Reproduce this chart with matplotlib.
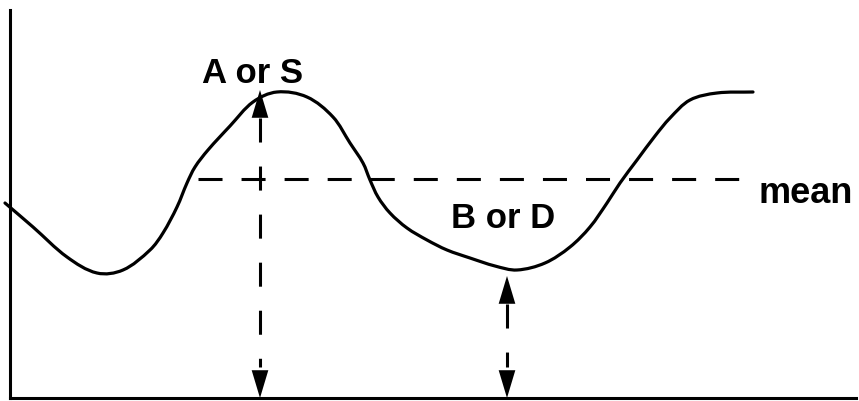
import matplotlib
matplotlib.use("Agg")
import numpy as np
import matplotlib.pyplot as plt
from matplotlib.path import Path
from matplotlib.patches import PathPatch

plt.rcParams['lines.scale_dashes'] = False

# signal curve (arbitrary units)
curve_x = [-0.5, 2.3, 5.7, 8.7, 11.3, 14.0, 15.3, 16.7, 17.7, 18.5, 19.8, 22.0,
           24.3, 26.7, 29.7, 32.3, 34.0, 35.3, 36.0, 36.8, 38.0, 39.7, 41.7,
           43.7, 46.0, 48.5, 50.7, 53.5, 56.0, 58.0, 59.7, 61.0, 62.7,
           64.5, 66.0, 68.0, 70.7, 74.3]
curve_y = [19.5, 17.1, 14.1, 12.5, 12.8, 14.8, 16.5, 19.1, 21.5, 23.1, 24.8, 27.2,
           29.6, 30.6, 30.1, 28.1, 25.5, 23.5, 21.8, 20.1, 18.5, 17.0, 15.8,
           14.8, 14.0, 13.2, 12.8, 13.5, 15.1, 17.1, 19.5, 21.5, 23.8,
           26.2, 28.0, 29.8, 30.5, 30.6]

mean_level = 21.9
mean_span = [18.8, 73.8]

# the two measured heights: A/S at the peak, B/D at the trough
arrow_x = [25.0, 49.7]
arrow_top = [30.8, 12.2]
labels = ['A or S', 'B or D']
label_pos = [(24.3, 31.5), (49.3, 17.0)]


def smooth_path(xs, ys):
    # smooth curve through the read points, drawn as cubic bezier segments
    p = np.column_stack([xs, ys]).astype(float)
    n = len(p)
    tang = np.zeros_like(p)
    for i in range(n):
        d = p[min(i + 1, n - 1)] - p[max(i - 1, 0)]
        tang[i] = d / np.hypot(*d)
    verts = [p[0]]
    codes = [Path.MOVETO]
    for i in range(n - 1):
        seg = np.hypot(*(p[i + 1] - p[i])) / 3
        verts += [p[i] + tang[i] * seg, p[i + 1] - tang[i + 1] * seg, p[i + 1]]
        codes += [Path.CURVE4] * 3
    return Path(verts, codes)


fig = plt.figure(figsize=(8.59, 4.01), dpi=100)
ax = fig.add_axes([10 / 859, 3 / 401, 846 / 859, 388 / 401])
ax.set_xlim(0, 84.6)
ax.set_ylim(0, 38.8)
for s in ['top', 'right']:
    ax.spines[s].set_visible(False)
for s in ['left', 'bottom']:
    ax.spines[s].set_linewidth(2.2)
ax.set_xticks([])
ax.set_yticks([])

ax.add_patch(PathPatch(smooth_path(curve_x, curve_y), fill=False, color='black',
                       lw=2.3, clip_on=False, joinstyle='round', capstyle='round'))

ax.plot(mean_span, [mean_level, mean_level], color='black', lw=2.2,
        dashes=(17.3, 13.7), dash_capstyle='butt')
ax.text(74.8, 19.5, 'mean', fontsize=26, fontweight='bold',
        family='Liberation Sans', va='baseline', ha='left')

head = 2.8  # arrow head length in data units
arrow_style = dict(arrowstyle='-|>,head_length=2.0,head_width=0.6',
                   color='black', lw=0, shrinkA=0, shrinkB=0, mutation_scale=10)
for x, top in zip(arrow_x, arrow_top):
    # dashed shaft between the two heads
    ax.plot([x, x], [top - head, 3.1], color='black', lw=2.2,
            dashes=(17.3, 17.3), dash_capstyle='butt')
    ax.annotate('', xy=(x, top), xytext=(x, top - head), arrowprops=arrow_style)
    ax.annotate('', xy=(x, 0), xytext=(x, 3.1), arrowprops=arrow_style)

for lab, (lx, ly) in zip(labels, label_pos):
    ax.text(lx, ly, lab, fontsize=25, fontweight='bold', family='Liberation Sans',
            ha='center', va='baseline')

fig.savefig('out.png', dpi=100)
